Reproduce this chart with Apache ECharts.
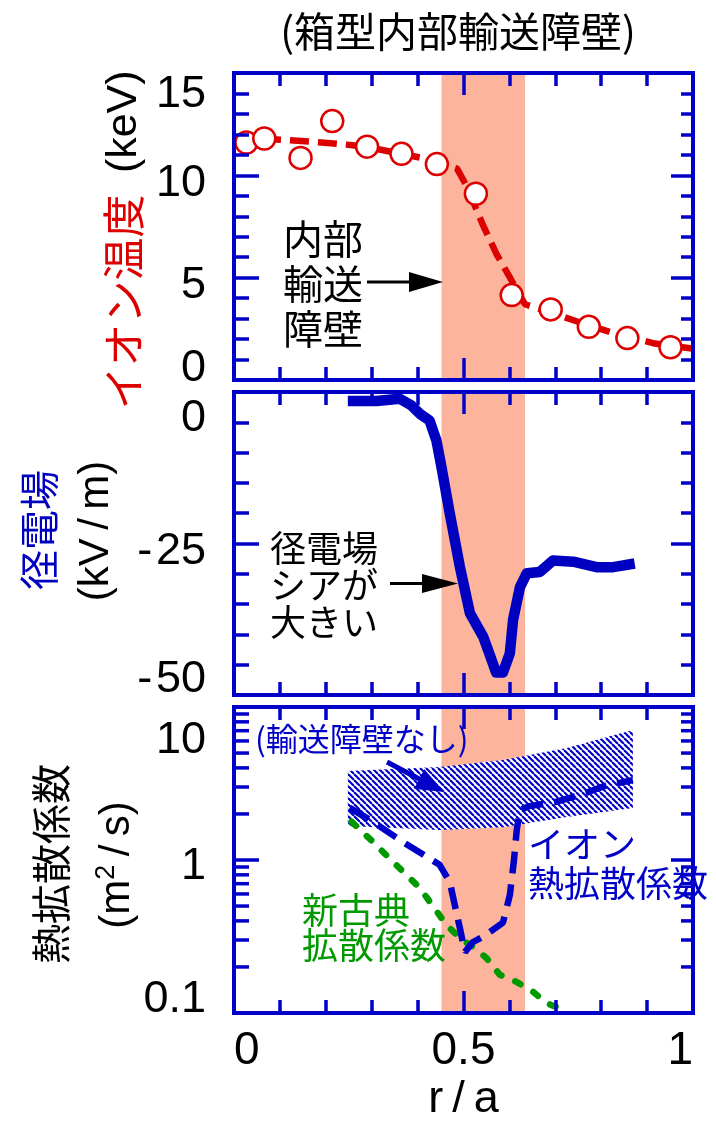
<!DOCTYPE html>
<html>
<head>
<meta charset="utf-8">
<script src="https://cdn.jsdelivr.net/npm/echarts@6/dist/echarts.min.js"></script>
<style>
  html, body { margin: 0; padding: 0; background: #fff; }
  #chart { width: 716px; height: 1124px; }
</style>
</head>
<body>
<div id="chart"></div>
<script>
// ---- data (normalised radius r/a on every panel) ----
// ion temperature measurements (keV)
const tiR   = [0.027, 0.066, 0.145, 0.214, 0.290, 0.365, 0.442, 0.527, 0.605, 0.690, 0.773, 0.857, 0.951];
const tiVal = [11.6, 11.8, 10.85, 12.65, 11.4, 11.05, 10.55, 9.1, 4.15, 3.45, 2.6, 2.05, 1.6];
// fitted ion temperature profile (keV)
const tiFitR   = [0.0, 0.092, 0.172, 0.259, 0.317, 0.405, 0.486, 0.506, 0.543, 0.572, 0.597, 0.634, 0.690, 0.746, 0.826, 0.913, 1.0];
const tiFitVal = [11.75, 11.75, 11.64, 11.47, 11.26, 10.87, 10.33, 9.51, 7.54, 6.15, 5.17, 3.7, 3.3, 2.87, 2.30, 1.80, 1.53];
// radial electric field (kV/m)
const erR   = [0.248, 0.310, 0.361, 0.386, 0.405, 0.426, 0.441, 0.452, 0.470, 0.492, 0.514, 0.543, 0.564, 0.571, 0.586, 0.601, 0.608, 0.623, 0.638, 0.666, 0.695, 0.739, 0.790, 0.826, 0.873];
const erVal = [-1.5, -1.5, -1.1, -2.2, -3.6, -4.7, -8.0, -12.4, -20.0, -28.8, -36.5, -40.4, -44.8, -46.3, -46.3, -43.1, -37.6, -32.2, -29.9, -29.7, -27.8, -28.0, -28.9, -28.9, -28.3];
// ion thermal diffusivity (m^2/s)
const chiR   = [0.252, 0.296, 0.372, 0.448, 0.470, 0.492, 0.503, 0.520, 0.546, 0.586, 0.601, 0.610, 0.616, 0.623, 0.644, 0.699, 0.754, 0.808, 0.869];
const chiVal = [2.19, 1.83, 1.29, 0.93, 0.72, 0.36, 0.25, 0.29, 0.32, 0.39, 0.59, 1.0, 1.57, 2.12, 2.25, 2.39, 2.66, 3.05, 3.33];
// neoclassical diffusivity (m^2/s)
const neoR   = [0.256, 0.302, 0.346, 0.405, 0.463, 0.492, 0.520, 0.550, 0.579, 0.615, 0.651, 0.681, 0.725];
const neoVal = [1.78, 1.32, 0.975, 0.656, 0.376, 0.309, 0.271, 0.229, 0.178, 0.160, 0.138, 0.116, 0.103];
// ion diffusivity range without a transport barrier (m^2/s)
const bandR  = [0.248, 0.448, 0.586, 0.725, 0.869];
const bandHi = [3.82, 4.05, 4.5, 5.4, 7.08];
const bandLo = [1.67, 1.57, 1.64, 1.91, 2.19];
// extent of the internal transport barrier (r/a)
const itbRange = [0.452, 0.634];

// tick values
const rTicks   = [0, 0.5, 1];
const tiTicks  = [0, 5, 10, 15];
const erTicks  = [-50, -25, 0];
const chiTicks = [0.1, 1, 10];
const chiMinorTicks = [0.2, 0.3, 0.4, 0.5, 0.6, 0.7, 0.8, 0.9, 2, 3, 4, 5, 6, 7, 8, 9];

// ---- styling ----
const FRAME = '#0000c8';
const SHADE = '#fcb49c';
const RED = '#dd0000';
const BLUE = '#0000c0';
const GREEN = '#009a00';
const FONT = "'Liberation Sans', 'Noto Sans CJK JP', sans-serif";
const JP = "'Noto Sans CJK JP', 'Liberation Sans', sans-serif";
const TICK_FS = 45;

const pairs = (xs, ys) => xs.map((x, i) => [x, ys[i]]);

// hatch tile for the "no barrier" band
const TILE = 6;
const hatchTile = document.createElement('canvas');
hatchTile.width = TILE; hatchTile.height = TILE;
(function () {
  const c = hatchTile.getContext('2d');
  c.fillStyle = '#ffffff';
  c.fillRect(0, 0, TILE, TILE);
  c.strokeStyle = FRAME;
  c.lineWidth = 2.1;
  for (let k = -1; k <= 1; k++) {
    c.beginPath();
    c.moveTo(k * TILE, 0);
    c.lineTo(k * TILE + TILE, TILE);
    c.stroke();
  }
})();
const hatch = { image: hatchTile, repeat: 'repeat' };

// tick labels sit slightly off their ticks (kept inside the frame)
function shiftedLabels(texts, shifts) {
  const rich = {};
  texts.forEach((t, i) => {
    const d = shifts[i];
    rich['s' + i] = {
      fontSize: TICK_FS, fontFamily: FONT, color: '#000',
      padding: d >= 0 ? [2 * d, 0, 0, 0] : [0, 0, -2 * d, 0]
    };
  });
  return {
    rich,
    fmt: (t) => {
      const i = texts.indexOf(t);
      return i < 0 ? '' : '{s' + i + '|' + t + '}';
    }
  };
}

const tiLab  = shiftedLabels(tiTicks.map(String), [-11, 8, 8, 22]);
const erText = (v) => (v < 0 ? '-\u200A' + Math.abs(v) : String(v));
const erLab  = shiftedLabels(erTicks.map(erText), [-15, 8, 27]);
const chiText = (v) => String(chiTicks[Math.round(Math.log10(v)) + 1]);
const chiLab = shiftedLabels(chiTicks.map(String), [-13, 7, 34]);

const gridBase = { left: 234, right: 23, containLabel: false, outerBoundsMode: 'none' };
const grids = [
  Object.assign({ top: 73, height: 307 }, gridBase),
  Object.assign({ top: 392, height: 303 }, gridBase),
  Object.assign({ top: 707, height: 306 }, gridBase)
];

const frameLine = { show: true, onZero: false, lineStyle: { color: FRAME, width: 4, cap: 'square' } };
const tickStyle = { color: FRAME, width: 3.5 };

function xAxisPair(g, withLabels) {
  const base = {
    type: 'value', gridIndex: g, min: rTicks[0], max: rTicks[rTicks.length - 1], interval: 0.5,
    axisLine: frameLine, splitLine: { show: false }, z: 10,
    minorTick: { show: true, splitNumber: 5, length: 13, lineStyle: tickStyle },
    axisTick: { show: true, inside: true, length: 22, lineStyle: tickStyle }
  };
  const bottom = Object.assign({}, base, {
    position: 'bottom',
    axisLabel: withLabels ? {
      show: true, fontSize: 46, fontFamily: FONT, color: '#000', margin: 15,
      alignMinLabel: 'left', alignMaxLabel: 'right',
      formatter: (v) => String(v)
    } : { show: false }
  });
  if (withLabels) {
    Object.assign(bottom, {
      name: 'r\u2009/\u2009a', nameLocation: 'middle', nameGap: 64,
      nameTextStyle: { fontSize: 45, fontFamily: FONT, color: '#000' }
    });
  }
  const top = Object.assign({}, base, { position: 'top', axisLabel: { show: false } });
  return [bottom, top];
}

function yAxisPair(g, opts, lab, textOf) {
  const base = Object.assign({
    gridIndex: g, axisLine: frameLine, splitLine: { show: false }, z: 10,
    axisTick: { show: true, inside: true, length: 25, lineStyle: tickStyle }
  }, opts);
  const left = Object.assign({}, base, {
    position: 'left',
    axisLabel: {
      show: true, margin: 28, fontSize: TICK_FS, fontFamily: FONT, color: '#000',
      formatter: (v) => lab.fmt(textOf(v)), rich: lab.rich
    }
  });
  const right = Object.assign({}, base, {
    position: 'right', axisLabel: { show: false },
    axisTick: { show: true, inside: true, length: 22, lineStyle: tickStyle }
  });
  if (base.minorTick) {
    right.minorTick = Object.assign({}, base.minorTick, { length: 12 });
  }
  return [left, right];
}

const linMinor = (n) => ({ show: true, splitNumber: n, length: 15, lineStyle: tickStyle });

const xAxes = [].concat(xAxisPair(0, false), xAxisPair(1, false), xAxisPair(2, true));
const yAxes = [].concat(
  yAxisPair(0, { type: 'value', min: 0, max: 15, interval: 5, minorTick: linMinor(5) }, tiLab, (v) => String(v)),
  yAxisPair(1, { type: 'value', min: -50, max: 0, interval: 25, minorTick: linMinor(5) }, erLab, erText),
  yAxisPair(2, { type: 'log', logBase: 10, min: 0.1, max: 10 }, chiLab, chiText)
);

function shadeSeries(g) {
  return {
    type: 'line', xAxisIndex: 2 * g, yAxisIndex: 2 * g, data: [], z: 1, silent: true,
    markArea: {
      silent: true,
      itemStyle: { color: SHADE, opacity: 1 },
      data: [[{ xAxis: itbRange[0] }, { xAxis: itbRange[1] }]]
    }
  };
}

const series = [
  shadeSeries(0), shadeSeries(1), shadeSeries(2),
  // ion temperature fit
  {
    type: 'line', xAxisIndex: 0, yAxisIndex: 0, z: 3, silent: true,
    data: pairs(tiFitR, tiFitVal), showSymbol: false, symbol: 'none',
    lineStyle: { color: RED, width: 6.5, type: [19, 9], cap: 'butt' }
  },
  // ion temperature measurements
  {
    type: 'scatter', xAxisIndex: 0, yAxisIndex: 0, z: 4, silent: true,
    data: pairs(tiR, tiVal), symbol: 'circle', symbolSize: 22,
    itemStyle: { color: '#ffffff', borderColor: RED, borderWidth: 2.5, opacity: 1 }
  },
  // radial electric field
  {
    type: 'line', xAxisIndex: 2, yAxisIndex: 2, z: 3, silent: true,
    data: pairs(erR, erVal), showSymbol: false, symbol: 'none',
    lineStyle: { color: BLUE, width: 10.5, join: 'round', cap: 'butt' }
  },
  // diffusivity range without barrier (hatched)
  {
    type: 'custom', xAxisIndex: 4, yAxisIndex: 4, z: 3, silent: true,
    data: [[bandR[0], bandHi[0]]],
    renderItem: (params, api) => {
      const upper = bandR.map((r, i) => api.coord([r, bandHi[i]]));
      const lower = bandR.map((r, i) => api.coord([r, bandLo[i]])).reverse();
      return { type: 'polygon', shape: { points: upper.concat(lower) }, style: { fill: hatch } };
    }
  },
  // neoclassical diffusivity
  {
    type: 'line', xAxisIndex: 4, yAxisIndex: 4, z: 4, silent: true,
    data: pairs(neoR, neoVal), showSymbol: false, symbol: 'none',
    lineStyle: { color: GREEN, width: 6.5, type: [6, 15], cap: 'round' }
  },
  // ion thermal diffusivity
  {
    type: 'line', xAxisIndex: 4, yAxisIndex: 4, z: 5, silent: true,
    data: pairs(chiR, chiVal), showSymbol: false, symbol: 'none',
    lineStyle: { color: FRAME, width: 6.5, type: [22, 11], cap: 'butt' }
  },
  // logarithmic minor ticks on both sides of the lower panel
  {
    type: 'custom', xAxisIndex: 4, yAxisIndex: 4, z: 20, silent: true,
    data: chiMinorTicks.map((v) => [rTicks[0], v]),
    renderItem: (params, api) => {
      const v = api.value(1);
      const L = api.coord([rTicks[0], v]);
      const R = api.coord([rTicks[rTicks.length - 1], v]);
      return {
        type: 'group', children: [
          { type: 'line', shape: { x1: L[0], y1: L[1], x2: L[0] + 15, y2: L[1] }, style: { stroke: FRAME, lineWidth: 3.5 } },
          { type: 'line', shape: { x1: R[0], y1: R[1], x2: R[0] - 12, y2: R[1] }, style: { stroke: FRAME, lineWidth: 3.5 } }
        ]
      };
    }
  }
];

function arrow(x1, y1, x2, y2, headLen, headHalf, width, color) {
  const dx = x2 - x1, dy = y2 - y1, len = Math.hypot(dx, dy);
  const ux = dx / len, uy = dy / len;
  const bx = x2 - ux * headLen, by = y2 - uy * headLen;
  const px = -uy * headHalf, py = ux * headHalf;
  return [
    { type: 'line', z: 100, shape: { x1, y1, x2: bx, y2: by }, style: { stroke: color, lineWidth: width } },
    { type: 'polygon', z: 100, shape: { points: [[x2, y2], [bx + px, by + py], [bx - px, by - py]] }, style: { fill: color } }
  ];
}

const graphic = [
  { type: 'text', z: 100, x: 458, y: 31, style: { text: '(箱型内部輸送障壁)', font: '41px ' + JP, fill: '#000', align: 'center', verticalAlign: 'middle' } },
  // axis titles
  {
    type: 'text', z: 100, x: 124, y: 240, rotation: Math.PI / 2,
    style: {
      text: '{r|イオン温度}{k|\u2002(keV)}', align: 'center', verticalAlign: 'middle',
      rich: { r: { fill: RED, fontSize: 43, fontFamily: JP }, k: { fill: '#000', fontSize: 43, fontFamily: FONT } }
    }
  },
  { type: 'text', z: 100, x: 39, y: 530, rotation: Math.PI / 2, style: { text: '径電場', font: '40px ' + JP, fill: BLUE, align: 'center', verticalAlign: 'middle' } },
  { type: 'text', z: 100, x: 96, y: 531, rotation: Math.PI / 2, style: { text: '(kV\u2009/\u2009m)', font: '42px ' + FONT, fill: '#000', align: 'center', verticalAlign: 'middle' } },
  { type: 'text', z: 100, x: 51, y: 864, rotation: Math.PI / 2, style: { text: '熱拡散係数', font: '40px ' + JP, fill: '#000', align: 'center', verticalAlign: 'middle' } },
  {
    type: 'text', z: 100, x: 117, y: 865, rotation: Math.PI / 2,
    style: {
      text: '{k|(m}{sup|2}{k|\u2009/\u2009s)}', align: 'center', verticalAlign: 'middle',
      rich: { k: { fill: '#000', fontSize: 42, fontFamily: FONT }, sup: { fill: '#000', fontSize: 27, fontFamily: FONT, padding: [0, 0, 20, 0] } }
    }
  },
  // panel annotations
  { type: 'text', z: 100, x: 283, y: 216, style: { text: '内部\n輸送\n障壁', font: '40px ' + JP, lineHeight: 45, fill: '#000', align: 'left', verticalAlign: 'top' } },
  { type: 'text', z: 100, x: 270, y: 530, style: { text: '径電場\nシアが\n大きい', font: '36px ' + JP, lineHeight: 37, fill: '#000', align: 'left', verticalAlign: 'top' } },
  { type: 'text', z: 100, x: 255, y: 739, style: { text: '(輸送障壁なし)', font: '32px ' + JP, fill: FRAME, align: 'left', verticalAlign: 'middle' } },
  { type: 'text', z: 100, x: 528, y: 825, style: { text: 'イオン\n熱拡散係数', font: '36px ' + JP, lineHeight: 39, fill: FRAME, align: 'left', verticalAlign: 'top' } },
  { type: 'text', z: 100, x: 302, y: 893, style: { text: '新古典\n拡散係数', font: '36px ' + JP, lineHeight: 35, fill: GREEN, align: 'left', verticalAlign: 'top' } }
].concat(
  arrow(367, 282, 443, 282, 34, 10, 3, '#000'),
  arrow(390, 583.5, 458, 583.5, 36, 9.5, 3, '#000'),
  arrow(387, 762, 444, 792, 28, 11, 5, FRAME)
);

const chart = echarts.init(document.getElementById('chart'), null, { renderer: 'canvas', width: 716, height: 1124 });
chart.setOption({
  animation: false,
  backgroundColor: '#ffffff',
  grid: grids,
  xAxis: xAxes,
  yAxis: yAxes,
  series: series,
  graphic: graphic
});
</script>
</body>
</html>
